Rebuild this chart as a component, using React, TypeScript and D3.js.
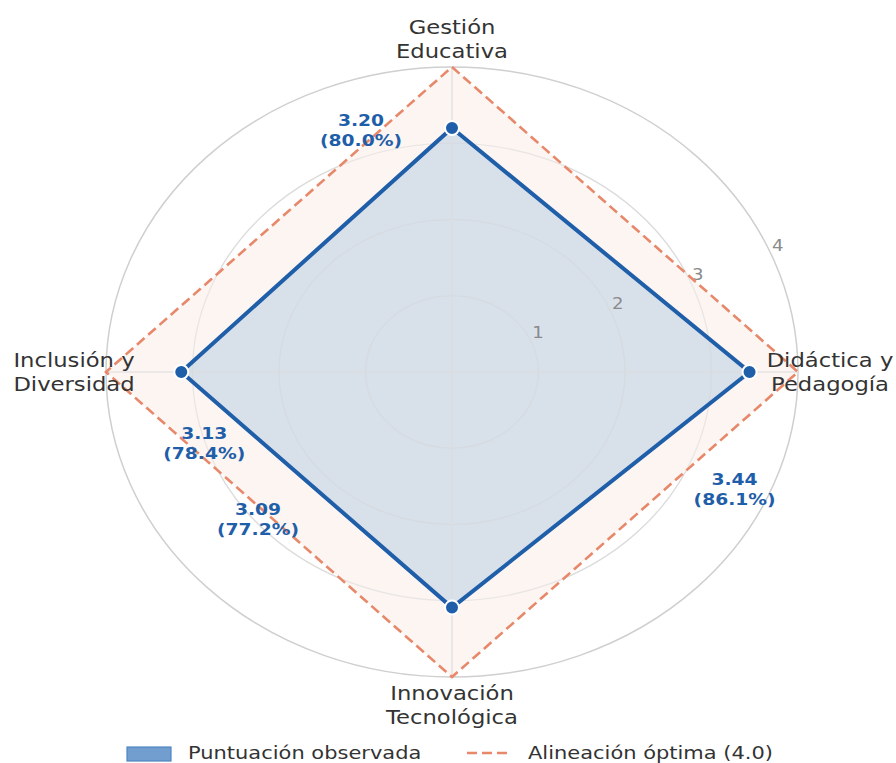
import React from "react";
import * as d3 from "d3";

const categories: string[][] = [
  ["Gestión", "Educativa"],
  ["Didáctica y", "Pedagogía"],
  ["Innovación", "Tecnológica"],
  ["Inclusión y", "Diversidad"],
];
const angles: number[] = [90, 0, 270, 180];
const scores: number[] = [3.2, 3.44, 3.09, 3.13];
const percents: string[] = ["80.0%", "86.1%", "77.2%", "78.4%"];
const optimum: number[] = [4, 4, 4, 4];
const radialTicks: number[] = [1, 2, 3, 4];
const legendLabels: string[] = ["Puntuación observada", "Alineación óptima (4.0)"];

// annotation offsets (px) from each data point
const labelOffsets: [number, number][] = [
  [-91, -8],
  [-15, 107],
  [-194, -98],
  [23, 61],
];

const W = 896;
const H = 763;
const cx = 452;
const cy = 372;
const SX = 1.134;
const FONT = "DejaVu Sans, Verdana, sans-serif";

const rX = d3.scaleLinear().domain([0, 4]).range([0, 346]);
const rY = d3.scaleLinear().domain([0, 4]).range([0, 305]);

const pt = (v: number, deg: number): [number, number] => {
  const a = (deg * Math.PI) / 180;
  return [cx + rX(v) * Math.cos(a), cy - rY(v) * Math.sin(a)];
};

const BLUE = "#1f5ea8";
const ORANGE = "#e8886a";

function T(props: {
  x: number;
  y: number;
  size: number;
  color: string;
  weight?: string;
  anchor?: string;
  children: React.ReactNode;
}) {
  return (
    <text
      transform={`translate(${props.x},${props.y}) scale(${SX},1)`}
      fontSize={props.size}
      fill={props.color}
      fontWeight={props.weight || "normal"}
      textAnchor={props.anchor || "middle"}
      dominantBaseline="central"
      fontFamily={FONT}
    >
      {props.children}
    </text>
  );
}

export default function App() {
  const line = d3.line<[number, number]>().curve(d3.curveLinearClosed);
  const optPts = optimum.map((v, i) => pt(v, angles[i]));
  const scorePts = scores.map((v, i) => pt(v, angles[i]));

  return (
    <svg
      width={W}
      height={H}
      style={{ position: "absolute", left: 0, top: 0, background: "#fff" }}
    >
      {/* grid circles */}
      {radialTicks.map((t) => (
        <ellipse
          key={t}
          cx={cx}
          cy={cy}
          rx={rX(t)}
          ry={rY(t)}
          fill="none"
          stroke={t === 4 ? "#cfcfcf" : "#e3e3e3"}
          strokeWidth={t === 4 ? 1.5 : 1.2}
        />
      ))}
      {/* optimum fill */}
      <path d={line(optPts) || ""} fill="#fcf5f2" stroke="none" />
      {/* observed fill */}
      <path d={line(scorePts) || ""} fill="#d8e0ea" stroke="none" />
      {/* grid again on top lightly */}
      {radialTicks.slice(0, 3).map((t) => (
        <ellipse
          key={"g" + t}
          cx={cx}
          cy={cy}
          rx={rX(t)}
          ry={rY(t)}
          fill="none"
          stroke="#d6d6d6"
          strokeOpacity={0.5}
          strokeWidth={1.2}
        />
      ))}
      {/* spokes */}
      {angles.map((a, i) => {
        const [x, y] = pt(4, a);
        return (
          <line key={i} x1={cx} y1={cy} x2={x} y2={y} stroke="#dcdcdc" strokeWidth={1.2} />
        );
      })}
      {/* radial tick labels */}
      {radialTicks.map((t) => {
        const [x, y] = pt(t, 22.5);
        return (
          <T key={t} x={x + 6} y={y - 10} size={16} color="#8a8a8a">
            {t}
          </T>
        );
      })}
      {/* optimum dashed */}
      <path
        d={line(optPts) || ""}
        fill="none"
        stroke={ORANGE}
        strokeWidth={2.6}
        strokeDasharray="10,5"
      />
      {/* observed line */}
      <path
        d={line(scorePts) || ""}
        fill="none"
        stroke={BLUE}
        strokeWidth={4}
        strokeLinejoin="miter"
      />
      {scorePts.map(([x, y], i) => (
        <circle key={i} cx={x} cy={y} r={7} fill={BLUE} stroke="#fff" strokeWidth={2} />
      ))}
      {/* value labels */}
      {scorePts.map(([x, y], i) => (
        <g key={"v" + i}>
          <T x={x + labelOffsets[i][0]} y={y + labelOffsets[i][1]} size={16.5} color={BLUE} weight="bold">
            {scores[i].toFixed(2)}
          </T>
          <T x={x + labelOffsets[i][0]} y={y + labelOffsets[i][1] + 20} size={16.5} color={BLUE} weight="bold">
            {`(${percents[i]})`}
          </T>
        </g>
      ))}
      {/* category labels */}
      {categories.map((lines, i) => {
        const [x, y] = pt(4.37, angles[i]);
        return (
          <g key={"c" + i}>
            {lines.map((l, j) => (
              <T key={j} x={x} y={y + (j - (lines.length - 1) / 2) * 23.5} size={20} color="#333">
                {l}
              </T>
            ))}
          </g>
        );
      })}
      {/* legend */}
      <rect x={127} y={747} width={44} height={14} fill="#729ecf" stroke="#4f86c3" strokeWidth={1.2} />
      <T x={188} y={752.5} size={18.5} color="#333" anchor="start">
        {legendLabels[0]}
      </T>
      <line x1={467} y1={753} x2={511} y2={753} stroke={ORANGE} strokeWidth={2.6} strokeDasharray="10,5" />
      <T x={528} y={752.5} size={18.5} color="#333" anchor="start">
        {legendLabels[1]}
      </T>
    </svg>
  );
}
